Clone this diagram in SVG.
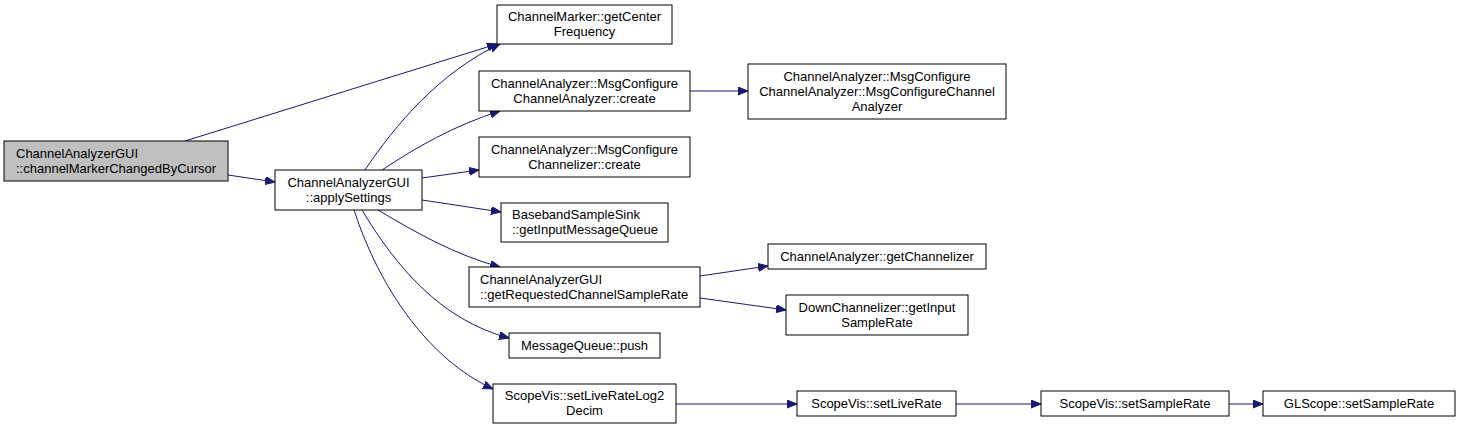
<svg xmlns="http://www.w3.org/2000/svg" width="1459" height="431" viewBox="0 0 1459 431">
<style>
.n rect{fill:#fff;stroke:#000;stroke-width:1}
.n text{font-family:"Liberation Sans",Arial,sans-serif;font-size:13px;fill:#000}
.c{text-anchor:middle}
.e path{fill:none;stroke:#191970;stroke-width:1}
</style>
<defs>
<marker id="a" markerUnits="userSpaceOnUse" markerWidth="12" markerHeight="9" refX="10" refY="4" orient="auto">
<path d="M0,0 L10,4 L0,8 z" fill="#191970" stroke="#191970" stroke-width="1"/>
</marker>
</defs>
<rect width="1459" height="431" fill="#fff"/>
<g id="edges" class="e">
<path marker-end="url(#a)" d="M185,141 L497,44"/>
<path marker-end="url(#a)" d="M228,175 L275,182"/>
<path marker-end="url(#a)" d="M365,170 C395,125 440,72 500,44"/>
<path marker-end="url(#a)" d="M382,170 C415,148 455,125 500,111"/>
<path marker-end="url(#a)" d="M422,178 L479,170"/>
<path marker-end="url(#a)" d="M422,200 L501,212"/>
<path marker-end="url(#a)" d="M378,210 C415,232 455,255 500,267"/>
<path marker-end="url(#a)" d="M362,210 C395,265 440,320 509,338"/>
<path marker-end="url(#a)" d="M354,210 C380,290 430,360 493,389"/>
<path marker-end="url(#a)" d="M690,91 L748,91"/>
<path marker-end="url(#a)" d="M700,276 L768,266"/>
<path marker-end="url(#a)" d="M700,298 L786,310"/>
<path marker-end="url(#a)" d="M676,404 L797,404"/>
<path marker-end="url(#a)" d="M956,404 L1041,404"/>
<path marker-end="url(#a)" d="M1229,404 L1263,404"/>
</g>
<g id="n1" class="n"><rect x="4" y="141" width="224" height="40" style="fill:#bfbfbf"/><text x="16" y="158">ChannelAnalyzerGUI</text><text x="16" y="173">::channelMarkerChangedByCursor</text></g>
<g id="n2" class="n"><rect x="275" y="170" width="147" height="40"/><text class="c" x="348.5" y="187">ChannelAnalyzerGUI</text><text class="c" x="348.5" y="202">::applySettings</text></g>
<g id="n3" class="n"><rect x="497" y="5" width="175" height="39"/><text class="c" x="584.5" y="21">ChannelMarker::getCenter</text><text class="c" x="584.5" y="36">Frequency</text></g>
<g id="n4" class="n"><rect x="479" y="71" width="211" height="40"/><text class="c" x="584.5" y="88">ChannelAnalyzer::MsgConfigure</text><text class="c" x="584.5" y="103">ChannelAnalyzer::create</text></g>
<g id="n5" class="n"><rect x="479" y="137" width="211" height="40"/><text class="c" x="584.5" y="154">ChannelAnalyzer::MsgConfigure</text><text class="c" x="584.5" y="169">Channelizer::create</text></g>
<g id="n6" class="n"><rect x="501" y="203" width="167" height="39"/><text x="512" y="219">BasebandSampleSink</text><text x="512" y="234">::getInputMessageQueue</text></g>
<g id="n7" class="n"><rect x="469" y="267" width="231" height="40"/><text x="480" y="284">ChannelAnalyzerGUI</text><text x="480" y="299">::getRequestedChannelSampleRate</text></g>
<g id="n8" class="n"><rect x="509" y="333" width="151" height="25"/><text class="c" x="584.5" y="350">MessageQueue::push</text></g>
<g id="n9" class="n"><rect x="493" y="384" width="183" height="39"/><text class="c" x="584.5" y="400">ScopeVis::setLiveRateLog2</text><text class="c" x="584.5" y="415">Decim</text></g>
<g id="n10" class="n"><rect x="748" y="64" width="258" height="55"/><text class="c" x="877" y="81">ChannelAnalyzer::MsgConfigure</text><text class="c" x="877" y="96">ChannelAnalyzer::MsgConfigureChannel</text><text class="c" x="877" y="111">Analyzer</text></g>
<g id="n11" class="n"><rect x="768" y="244" width="218" height="25"/><text class="c" x="877" y="261">ChannelAnalyzer::getChannelizer</text></g>
<g id="n12" class="n"><rect x="786" y="295" width="182" height="40"/><text class="c" x="877" y="312">DownChannelizer::getInput</text><text class="c" x="877" y="327">SampleRate</text></g>
<g id="n13" class="n"><rect x="797" y="391" width="159" height="25"/><text class="c" x="876.5" y="408">ScopeVis::setLiveRate</text></g>
<g id="n14" class="n"><rect x="1041" y="391" width="188" height="25"/><text class="c" x="1135" y="408">ScopeVis::setSampleRate</text></g>
<g id="n15" class="n"><rect x="1263" y="391" width="192" height="25"/><text class="c" x="1359" y="408">GLScope::setSampleRate</text></g>
</svg>
